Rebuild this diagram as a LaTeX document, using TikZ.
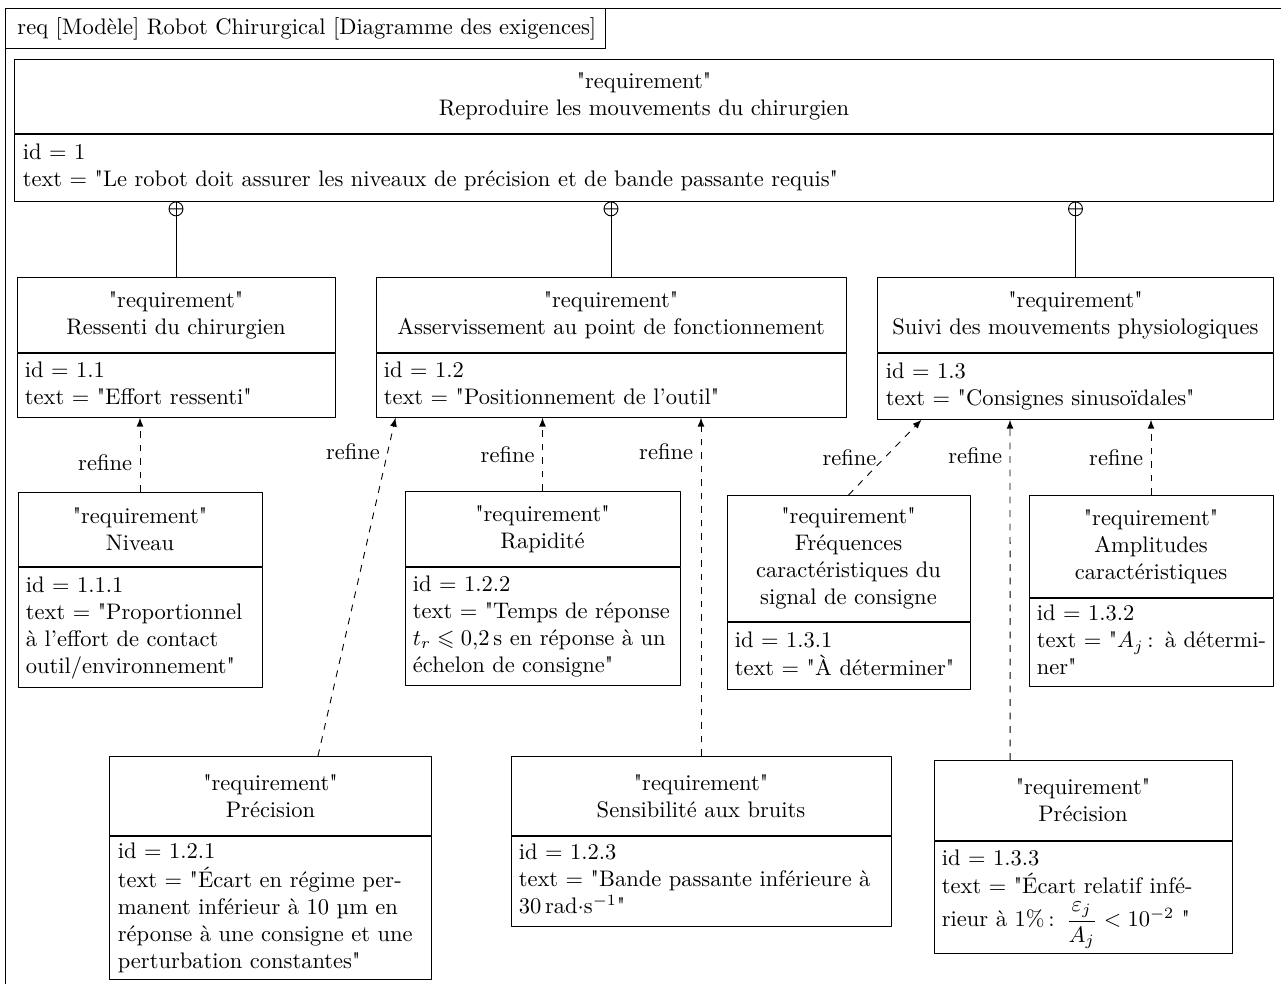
\documentclass[tikz,border=0pt]{standalone}
\usepackage{amsmath,amssymb}
\hyphenpenalty=10000
% guillemet droit (sans la ligature TeX)
\font\dqfont="[lmroman10-regular]" at 10pt
\newcommand\dq{{\dqfont\char"22}}
% lignes du corps, sans coupure automatique
\newcommand\reqlines[1]{\begin{tabular}{@{}l@{}}#1\end{tabular}}

\tikzset{
  reqhead/.style={draw, anchor=north, align=center, text width=#1, inner xsep=3.5pt},
  reqbody/.style={draw, anchor=north, align=left, text width=#1, inner xsep=3.5pt, inner ysep=1.5pt},
  refline/.style={dashed, ->},
}

\begin{document}
\begin{tikzpicture}[x=0.4444pt,y=-0.4444pt,>=latex,line join=round]
\useasboundingbox (0,0) rectangle (1281,984);
% cadre du diagramme
\draw (5,8) rectangle (1330,1030);
\node[draw, anchor=north west, inner xsep=5.3pt, minimum width=266.7pt, minimum height=17.8pt] (titre) at (5,8) {\makebox[256pt][l]{req [Modèle] Robot Chirurgical [Diagramme des exigences]}};

% exigence principale
\node[reqhead=552.1pt, minimum height=32.9pt] (h1) at (644,59) {\dq requirement\dq\\Reproduire les mouvements du chirurgien};
\node[reqbody=552.1pt, minimum height=29.8pt] (b1) at (h1.south) {\reqlines{id = 1\\text = \dq Le robot doit assurer les niveaux de précision et de bande passante requis\dq}};

% niveau 1.x
\node[reqhead=134.3pt, minimum height=33.3pt] (h11) at (176,277) {\dq requirement\dq\\Ressenti du chirurgien};
\node[reqbody=134.3pt, minimum height=28.4pt] (b11) at (h11.south) {\reqlines{id = 1.1\\text = \dq Effort ressenti\dq}};
\node[reqhead=201.9pt, minimum height=33.3pt] (h12) at (611,277) {\dq requirement\dq\\Asservissement au point de fonctionnement};
\node[reqbody=201.9pt, minimum height=28.4pt] (b12) at (h12.south) {\reqlines{id = 1.2\\text = \dq Positionnement de l'outil\dq}};
\node[reqhead=168.6pt, minimum height=33.3pt] (h13) at (1075.5,277) {\dq requirement\dq\\Suivi des mouvements physiologiques};
\node[reqbody=168.6pt, minimum height=29.3pt] (b13) at (h13.south) {\reqlines{id = 1.3\\text = \dq Consignes sinusoïdales\dq}};

% confinement
\foreach \n in {11,12,13}{
  \path (b1.south -| h\n.north) ++(0,7) coordinate (o\n);
  \draw (o\n) circle (3.1pt) ([xshift=-3.1pt]o\n) -- ([xshift=3.1pt]o\n);
  \draw (b1.south -| h\n.north) -- (h\n.north);
}

% niveau 1.x.x
\node[reqhead=101.4pt, minimum height=32.9pt] (h111) at (140,492) {\dq requirement\dq\\Niveau};
\node[reqbody=101.4pt, minimum height=53.3pt] (b111) at (h111.south) {\reqlines{id = 1.1.1\\text = \dq Proportionnel\\à l'effort de contact\\outil/environnement\dq}};
\node[reqhead=115.2pt, minimum height=33.3pt] (h122) at (542.5,491) {\dq requirement\dq\\Rapidité};
\node[reqbody=115.2pt, minimum height=52.4pt] (b122) at (h122.south) {\reqlines{id = 1.2.2\\text = \dq Temps de réponse\\$t_r\leqslant 0{,}2\,\mathrm{s}$ en réponse à un\\échelon de consigne\dq}};
\node[reqhead=101pt, minimum height=56pt] (h131) at (848.5,495) {\dq requirement\dq\\Fréquences\\caractéristiques du\\signal de consigne};
\node[reqbody=101pt, minimum height=29.8pt] (b131) at (h131.south) {\reqlines{id = 1.3.1\\text = \dq À déterminer\dq}};
\node[reqhead=101.4pt, minimum height=45.3pt] (h132) at (1151,495) {\dq requirement\dq\\Amplitudes\\caractéristiques};
\node[reqbody=101.4pt, minimum height=39.1pt] (b132) at (h132.south) {\reqlines{id = 1.3.2\\text = \dq$A_j$\,: à détermi-\\ner\dq}};
\node[reqhead=135.7pt, minimum height=35.1pt] (h121) at (270.5,756) {\dq requirement\dq\\Précision};
\node[reqbody=135.7pt, minimum height=62.7pt] (b121) at (h121.south) {\reqlines{id = 1.2.1\\text = \dq Écart en régime per-\\manent inférieur à 10 µm en\\réponse à une consigne et une\\perturbation constantes\dq}};
\node[reqhead=161.9pt, minimum height=35.1pt] (h123) at (701,756) {\dq requirement\dq\\Sensibilité aux bruits};
\node[reqbody=161.9pt, minimum height=40pt] (b123) at (h123.south) {\reqlines{id = 1.2.3\\text = \dq Bande passante inférieure à\\30\,rad$\cdot$s$^{-1}$\dq}};
\node[reqhead=125.4pt, minimum height=35.6pt] (h133) at (1083,760) {\dq requirement\dq\\Précision};
\node[reqbody=125.4pt, minimum height=49.8pt] (b133) at (h133.south) {\reqlines{id = 1.3.3\\text = \dq Écart relatif infé-\\rieur à 1\%\,: $\dfrac{\varepsilon_j}{A_j}<10^{-2}$ \dq}};

% raffinements
\draw[refline] (h111.north) -- (b11.south -| h111.north) node[pos=0.4,left] {refine};
\draw[refline] ([xshift=21.1pt]h121.north) -- ([xshift=8.9pt]b12.south west) node[pos=0.9,left] {refine};
\draw[refline] (h122.north) -- (b12.south -| h122.north) node[pos=0.5,left] {refine};
\draw[refline] (h123.north) -- (b12.south -| h123.north) node[pos=0.9,left] {refine};
\draw[refline] (h131.north) -- ([xshift=19.6pt]b13.south west) node[pos=0.49,left] {refine};
\draw[refline] ([xshift=-32.4pt]h133.north) -- ([xshift=-29.1pt]b13.south) node[pos=0.895,left] {refine};
\draw[refline] (h132.north) -- (b13.south -| h132.north) node[pos=0.49,left] {refine};
\end{tikzpicture}
\end{document}
